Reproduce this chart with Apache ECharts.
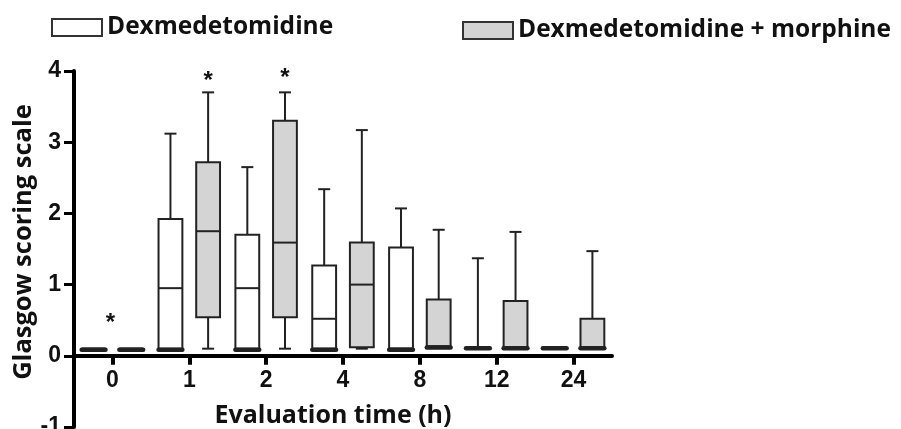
<!DOCTYPE html>
<html lang="en">
<head>
    <meta charset="UTF-8">
    <title>Glasgow scoring scale</title>
    <script src="https://cdn.jsdelivr.net/npm/echarts@6/dist/echarts.min.js"></script>
</head>
<body style="margin:0">
    <div id="main" style="width: 901px;height:429px;"></div>
    <script type="text/javascript">
        // Evaluation times (h)
        const categories = ['0', '1', '2', '4', '8', '12', '24'];
        // each box: [min, Q1, median, Q3, max]
        const dexBoxes = [
            [0.1, 0.1, 0.1, 0.1, 0.1],
            [0.1, 0.1, 0.95, 1.92, 3.12],
            [0.1, 0.1, 0.95, 1.70, 2.65],
            [0.1, 0.1, 0.52, 1.27, 2.34],
            [0.1, 0.1, 0.1, 1.52, 2.07],
            [0.12, 0.12, 0.12, 0.12, 1.37],
            [0.12, 0.12, 0.12, 0.12, 0.12]
        ];
        const morBoxes = [
            [0.1, 0.1, 0.1, 0.1, 0.1],
            [0.1, 0.54, 1.75, 2.72, 3.70],
            [0.1, 0.54, 1.59, 3.30, 3.70],
            [0.1, 0.12, 1.0, 1.59, 3.17],
            [0.13, 0.13, 0.13, 0.79, 1.77],
            [0.12, 0.12, 0.12, 0.77, 1.74],
            [0.12, 0.12, 0.12, 0.52, 1.47]
        ];
        // significance marks: category index, value, which box (0 = between, 1 = morphine)
        const starCategory = [0, 1, 2];
        const starValue = [0.45, 3.85, 3.9];
        const starBox = [0, 1, 1];

        const seriesNames = ['Dexmedetomidine', 'Dexmedetomidine + morphine'];
        const fills = ['#ffffff', '#d4d4d4'];
        const stroke = '#222';
        const titleFont = 'Open Sans';
        const tickFont = 'Liberation Sans';

        const gridTop = 71, gridBottom = 2, chartHeight = 429;
        const yMin = -1, yMax = 4;
        // the x axis sits on y = 0, so lift it from the grid bottom
        const xAxisOffset = -(chartHeight - gridTop - gridBottom) * (0 - yMin) / (yMax - yMin);

        let myChart = echarts.init(document.getElementById('main'));

        // draw one box with whiskers using the axis scales
        function boxRenderer(side, fill) {
            return function (params, api) {
                const i = api.value(0);
                const band = api.size([1, 0])[0];
                const cx = api.coord([i, 0])[0] + side * band * 0.245;
                const w = band * 0.31;
                const y = v => api.coord([i, v])[1];
                const min = api.value(1), q1 = api.value(2), med = api.value(3), q3 = api.value(4), max = api.value(5);
                const line = (x1, y1, x2, y2, lw) => ({
                    type: 'line',
                    shape: { x1: x1, y1: y1, x2: x2, y2: y2 },
                    style: { stroke: stroke, lineWidth: lw || 2, lineCap: lw > 2 ? 'round' : 'butt' }
                });
                const children = [];
                if (max > q3) {
                    children.push(line(cx, y(q3), cx, y(max)));
                    children.push(line(cx - 6, y(max), cx + 6, y(max)));
                }
                if (min < q1) {
                    children.push(line(cx, y(q1), cx, y(min)));
                    children.push(line(cx - 6, y(min), cx + 6, y(min)));
                }
                children.push({
                    type: 'rect',
                    shape: { x: cx - w / 2, y: y(q3), width: w, height: y(q1) - y(q3) },
                    style: { fill: fill, stroke: stroke, lineWidth: 2 }
                });
                children.push(line(cx - w / 2, y(med), cx + w / 2, y(med)));
                if (min >= q1) {
                    children.push(line(cx - w / 2, y(q1) + 1, cx + w / 2, y(q1) + 1, 4.5));
                }
                return { type: 'group', children: children };
            };
        }

        function starRenderer(params, api) {
            const i = api.value(0);
            const band = api.size([1, 0])[0];
            const pt = api.coord([i, api.value(1)]);
            const cx = pt[0] + (api.value(2) ? band * 0.245 : -2);
            return {
                type: 'text',
                x: cx,
                y: pt[1],
                style: {
                    text: '*',
                    fill: '#111',
                    font: 'bold 24px ' + tickFont,
                    align: 'center',
                    verticalAlign: 'middle'
                }
            };
        }

        function legendFor(idx, left, top) {
            return {
                left: left,
                top: top,
                icon: 'rect',
                itemWidth: 50,
                itemHeight: 17,
                itemGap: 8,
                data: [{
                    name: seriesNames[idx],
                    itemStyle: { color: fills[idx], borderColor: '#333', borderWidth: 2 }
                }],
                textStyle: { fontFamily: titleFont, fontWeight: 'bold', fontSize: 24.5, color: '#111' }
            };
        }

        let options = {
            animation: false,
            legend: [legendFor(0, 46, 10), legendFor(1, 457, 13)],
            grid: { left: 74, right: 289, top: gridTop, bottom: gridBottom, containLabel: false, outerBoundsMode: 'none' },
            xAxis: {
                type: 'category',
                data: categories,
                offset: xAxisOffset,
                name: 'Evaluation time (h)',
                nameLocation: 'middle',
                nameGap: 48,
                nameTextStyle: { fontFamily: titleFont, fontWeight: 'bold', fontSize: 25, color: '#111', padding: [0, 20, 0, 0] },
                axisLine: { onZero: false, lineStyle: { color: '#000', width: 4 } },
                axisTick: { show: true, alignWithLabel: true, length: 9, lineStyle: { color: '#000', width: 4 } },
                axisLabel: { fontFamily: tickFont, fontWeight: 'bold', fontSize: 23, color: '#111', margin: 13 }
            },
            yAxis: {
                type: 'value',
                min: yMin,
                max: yMax,
                interval: 1,
                name: 'Glasgow scoring scale',
                nameLocation: 'middle',
                nameGap: 37,
                nameMoveOverlap: false,
                nameTextStyle: { fontFamily: titleFont, fontWeight: 'bold', fontSize: 25.5, color: '#111', padding: [0, 0, 0, 14] },
                splitLine: { show: false },
                axisLine: { show: true, lineStyle: { color: '#000', width: 4 } },
                axisTick: { show: true, length: 10, lineStyle: { color: '#000', width: 3 } },
                axisLabel: { fontFamily: tickFont, fontWeight: 'bold', fontSize: 23, color: '#111', margin: 13 }
            },
            series: [
                {
                    name: seriesNames[0],
                    type: 'custom',
                    renderItem: boxRenderer(-1, fills[0]),
                    itemStyle: { color: fills[0], borderColor: '#333' },
                    encode: { x: 0, y: [1, 2, 3, 4, 5] },
                    data: dexBoxes.map((b, i) => [i].concat(b))
                },
                {
                    name: seriesNames[1],
                    type: 'custom',
                    renderItem: boxRenderer(1, fills[1]),
                    itemStyle: { color: fills[1], borderColor: '#333' },
                    encode: { x: 0, y: [1, 2, 3, 4, 5] },
                    data: morBoxes.map((b, i) => [i].concat(b))
                },
                {
                    name: 'significance',
                    type: 'custom',
                    renderItem: starRenderer,
                    encode: { x: 0, y: 1 },
                    data: starCategory.map((c, i) => [c, starValue[i], starBox[i]])
                }
            ]
        };

        myChart.setOption(options);
    </script>
</body>
</html>
